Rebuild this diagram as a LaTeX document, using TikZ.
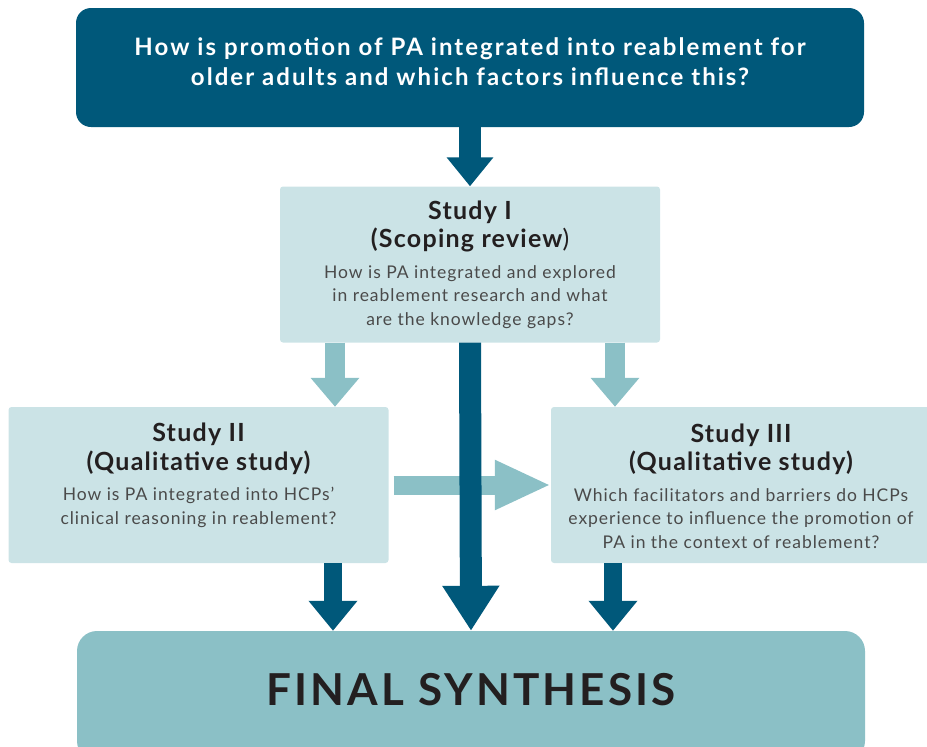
\documentclass[tikz,border=0pt]{standalone}
\usepackage{fontspec}
\setmainfont{Lato}
\usepackage{tikz}
\usetikzlibrary{arrows.meta}
\definecolor{deepteal}{RGB}{0,88,122}
\definecolor{paleteal}{HTML}{CBE3E6}
\definecolor{midteal}{HTML}{8BC0C6}
\definecolor{inkgrey}{HTML}{4A4A4A}
\definecolor{inkdark}{HTML}{231F20}
\newcommand\studyhead{\color{inkdark}\fontsize{25}{29}\selectfont\bfseries\addfontfeatures{LetterSpace=5}}

\begin{document}
\begin{tikzpicture}
[x=1pt, y=-1pt,
question box/.style={fill=deepteal, rounded corners=15pt, minimum width=788pt, minimum height=119pt, inner sep=0pt},
study box/.style={fill=paleteal, rounded corners=3pt, minimum width=380pt, minimum height=156pt, inner sep=0pt},
synthesis box/.style={fill=midteal, rounded corners=20pt, minimum width=788pt, minimum height=130pt, inner sep=0pt},
question text/.style={text=white, align=center, font=\fontsize{24}{30}\selectfont\bfseries\addfontfeatures{LetterSpace=8.5}},
study text/.style={text=inkgrey, align=center, font=\fontsize{17.5}{23.5}\selectfont\addfontfeatures{LetterSpace=5.5}},
dark arrow/.style={deepteal, line width=22pt, -{Triangle[length=29pt, width=45pt]}},
long arrow/.style={deepteal, line width=22pt, -{Triangle[length=45pt, width=54pt]}},
low arrow/.style={deepteal, line width=18pt, -{Triangle[length=30pt, width=47pt]}},
light arrow/.style={midteal, line width=20pt, -{Triangle[length=29pt, width=47pt]}},
side arrow/.style={midteal, line width=19pt, -{Triangle[length=56pt, width=46pt]}}]
\useasboundingbox (0,0) rectangle (927,747);
\node[question box] (question) at (470,67.5) {};
\node[question text] (questiontext) at ([yshift=6pt]question.center) {How is promotion of PA integrated into reablement for\\older adults and which factors influence this?};
\node[study box] (study1) at (470,264.5) {};
\node[study text] (study1text) at ([yshift=0pt]study1.center) {{\studyhead Study I}\\[4pt]{\studyhead (Scoping review}{\studyhead\mdseries )}\\[7pt]How is PA integrated and explored\\in reablement research and what\\are the knowledge gaps?};
\node[study box] (study2) at (198.5,485) {};
\node[study text] (study2text) at ([yshift=10pt]study2.center) {{\studyhead Study II}\\[4pt]{\studyhead (Qualitative study)}\\[7pt]How is PA integrated into HCPs'\\clinical reasoning in reablement?};
\node[study box] (study3) at (741,485) {};
\node[study text] (study3text) at ([yshift=-1pt]study3.center) {{\studyhead Study III}\\[4pt]{\studyhead (Qualitative study)}\\[7pt]Which facilitators and barriers do HCPs\\experience to influence the promotion of\\PA in the context of reablement?};
\node[synthesis box] (final) at (471,696) {};
\node[text=inkdark, font=\fontsize{44}{50}\selectfont\bfseries\addfontfeatures{LetterSpace=7}] (finaltext) at ([yshift=6pt]final.center) {FINAL SYNTHESIS};
\coordinate (leftlane) at (335,0);
\coordinate (rightlane) at (615,0);
\coordinate (leftdrop) at (333,0);
\coordinate (rightdrop) at (613,0);
\draw[dark arrow] (question.south) -- (study1.north);
\draw[light arrow] (study1.south -| leftlane) -- (study2.north -| leftlane);
\draw[light arrow] (study1.south -| rightlane) -- (study3.north -| rightlane);
\draw[side arrow] ([xshift=5pt]study2.east) -- (study3.west);
\draw[long arrow] (study1.south) -- (final.north);
\draw[low arrow] (study2.south -| leftdrop) -- (final.north -| leftdrop);
\draw[low arrow] (study3.south -| rightdrop) -- (final.north -| rightdrop);
\end{tikzpicture}
\end{document}
